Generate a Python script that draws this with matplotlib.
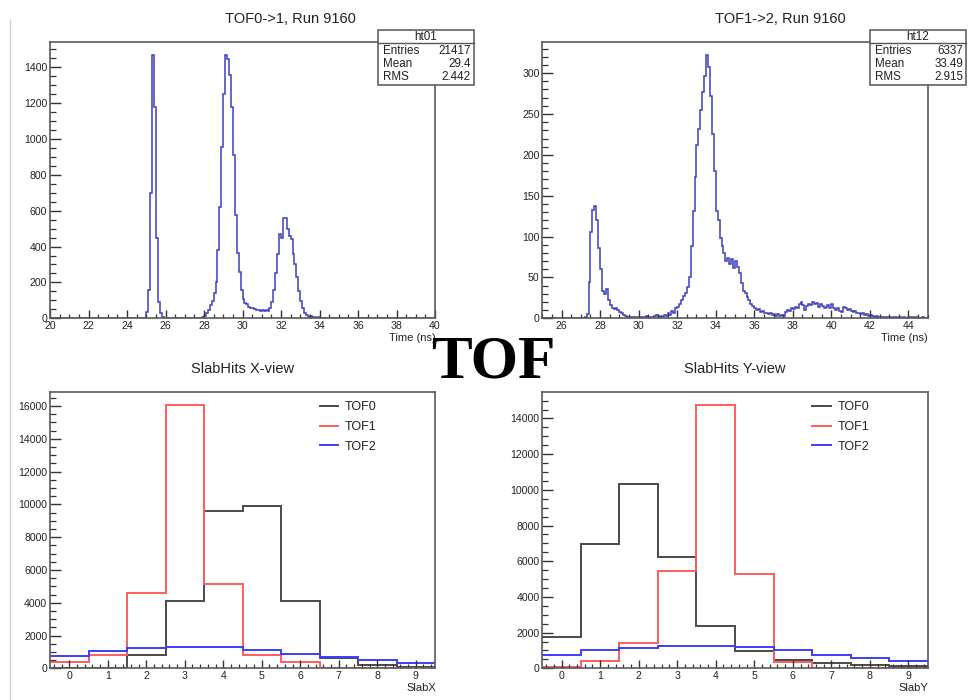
import numpy as np
import matplotlib
matplotlib.use("Agg")
import matplotlib.pyplot as plt
from matplotlib.ticker import MultipleLocator
from matplotlib.patches import Rectangle

plt.rcParams['font.family'] = ['Liberation Sans', 'DejaVu Sans']

# ---------------- data ----------------
# TOF0->1 time-of-flight histogram (0.1 ns bins)
t01_range = (20.0, 40.0)
t01_bin_width = 0.1
t01_first_bin = 24.8
t01_counts = [
    0, 3, 37, 158, 696, 1467, 1179, 450, 93, 28,          # 24.8 - 25.7
    5, 2, 1, 0, 1, 0, 0, 1, 0, 0,                         # 25.8 - 26.7
    0, 1, 0, 0, 1, 0, 1, 1, 2, 2,                         # 26.8 - 27.7
    3, 5, 12, 28, 46, 74, 95, 140, 205, 380,              # 27.8 - 28.7
    622, 956, 1250, 1467, 1445, 1355, 1180, 910, 578, 362,  # 28.8 - 29.7
    260, 158, 110, 84, 80, 62, 60, 55, 50, 48,            # 29.8 - 30.7
    45, 42, 45, 40, 45, 42, 55, 90, 160, 250,             # 30.8 - 31.7
    360, 470, 445, 560, 560, 500, 460, 440, 360, 300,     # 31.8 - 32.7
    230, 150, 95, 55, 30, 18, 10, 12, 8, 6,               # 32.8 - 33.7
    4, 5, 3, 2, 3, 1, 2, 1, 0, 1,                         # 33.8 - 34.7
    0, 0, 1, 0, 0, 0, 1, 0, 0, 0,                         # 34.8 - 35.7
]
t01_stats = ["ht01", "21417", "29.4", "2.442"]

# TOF1->2 time-of-flight histogram (0.1 ns bins)
t12_range = (25.0, 45.0)
t12_bin_width = 0.1
t12_first_bin = 27.2
t12_counts = [
    1, 5, 45, 105, 132, 137, 120, 86, 60, 33,             # 27.2 - 28.1
    30, 36, 22, 16, 13, 11, 12, 10, 8, 6,                 # 28.2 - 29.1
    4, 3, 2, 2, 1, 2, 1, 2, 1, 2,                         # 29.2 - 30.1
    1, 2, 3, 1, 2, 1, 3, 4, 2, 3,                         # 30.2 - 31.1
    2, 4, 3, 6, 4, 9, 7, 12, 14, 18,                      # 31.2 - 32.1
    22, 27, 31, 38, 51, 88, 131, 173, 212, 232,           # 32.2 - 33.1
    255, 277, 296, 322, 308, 272, 226, 180, 131, 120,     # 33.2 - 34.1
    98, 88, 80, 70, 74, 66, 72, 62, 70, 63,               # 34.2 - 35.1
    55, 43, 33, 31, 26, 22, 18, 15, 12, 10,               # 35.2 - 36.1
    11, 8, 9, 6, 7, 5, 6, 4, 5, 3,                        # 36.2 - 37.1
    5, 3, 4, 3, 8, 10, 9, 12, 11, 14,                     # 37.2 - 38.1
    13, 17, 20, 16, 10, 15, 18, 16, 20, 17,               # 38.2 - 39.1
    19, 14, 18, 15, 12, 14, 16, 13, 17, 12,               # 39.2 - 40.1
    10, 12, 9, 8, 14, 12, 10, 11, 9, 8,                   # 40.2 - 41.1
    9, 6, 7, 5, 6, 4, 5, 3, 4, 3,                         # 41.2 - 42.1
    2, 3, 1, 2, 1, 2, 1, 1, 2, 0,                         # 42.2 - 43.1
    1, 1, 0, 1, 0, 1, 0, 0, 1, 2,                         # 43.2 - 44.1
    1, 0, 1, 0, 0, 1, 0, 0,                               # 44.2 - 44.9
]
t12_stats = ["ht12", "6337", "33.49", "2.915"]

# Slab hit histograms (slab index 0..9)
slabs = [0, 1, 2, 3, 4, 5, 6, 7, 8, 9]
slabx_tof0 = [0, 0, 800, 4120, 9580, 9890, 4120, 610, 200, 100]
slabx_tof1 = [365, 812, 4620, 16040, 5130, 812, 406, 0, 0, 0]
slabx_tof2 = [770, 1055, 1260, 1320, 1300, 1120, 873, 670, 508, 345]
slaby_tof0 = [1734, 6990, 10350, 6210, 2350, 950, 466, 317, 186, 130]
slaby_tof1 = [93, 430, 1400, 5460, 14730, 5260, 336, 0, 0, 0]
slaby_tof2 = [746, 1044, 1137, 1268, 1230, 1193, 1025, 746, 597, 410]
series_labels = ["TOF0", "TOF1", "TOF2"]
series_colors = ["#4a4a4a", "#ff5c5c", "#3c3cff"]

# ---------------- figure ----------------
W, H = 976, 700
fig = plt.figure(figsize=(W / 100, H / 100), dpi=100)
fig.patch.set_facecolor("white")

def px_axes(left, top, right, bottom):
    return fig.add_axes([left / W, 1 - bottom / H, (right - left) / W, (bottom - top) / H])

TICK_COL = "#333333"
FRAME_COL = "#5a5a5a"

def style(ax, xmaj, xmin, ymaj, ymin):
    for s in ax.spines.values():
        s.set_color(FRAME_COL)
        s.set_linewidth(1.2)
    ax.xaxis.set_major_locator(MultipleLocator(xmaj))
    ax.xaxis.set_minor_locator(MultipleLocator(xmin))
    ax.yaxis.set_major_locator(MultipleLocator(ymaj))
    ax.yaxis.set_minor_locator(MultipleLocator(ymin))
    ax.tick_params(axis="both", which="both", direction="in", colors=TICK_COL,
                   labelsize=7.6, pad=2, top=False, right=False)
    ax.tick_params(axis="y", which="major", length=8.2, width=1)
    ax.tick_params(axis="y", which="minor", length=4.2, width=0.9)
    ax.tick_params(axis="x", which="major", length=5.5, width=1)
    ax.tick_params(axis="x", which="minor", length=2.8, width=0.9)
    for lab in ax.get_xticklabels() + ax.get_yticklabels():
        lab.set_color("#222222")

def full_hist(rng, width, first, counts):
    n = int(round((rng[1] - rng[0]) / width))
    vals = np.zeros(n)
    i0 = int(round((first - rng[0]) / width))
    vals[i0:i0 + len(counts)] = counts
    edges = rng[0] + width * np.arange(n + 1)
    return vals, edges

HIST_BLUE = "#3f3fbf"

# top-left
ax1 = px_axes(50, 42, 435, 318.3)
v, e = full_hist(t01_range, t01_bin_width, t01_first_bin, t01_counts)
ax1.stairs(v, e, baseline=None, color=HIST_BLUE, linewidth=1.1)
ax1.set_xlim(*t01_range)
ax1.set_ylim(0, 1.05 * max(t01_counts))
style(ax1, 2, 0.5, 200, 50)

# top-right
ax2 = px_axes(542.3, 42, 927.7, 318.3)
v, e = full_hist(t12_range, t12_bin_width, t12_first_bin, t12_counts)
ax2.stairs(v, e, baseline=None, color=HIST_BLUE, linewidth=1.1)
ax2.set_xlim(*t12_range)
ax2.set_ylim(0, 1.05 * max(t12_counts))
style(ax2, 2, 0.5, 50, 10)

# bottom panels
slab_edges = np.arange(len(slabs) + 1) - 0.5

def slab_panel(ax, series):
    for vals, lab, col in zip(series, series_labels, series_colors):
        ax.stairs(vals, slab_edges, baseline=None, color=col, linewidth=1.4, label=lab)
    ax.set_xlim(slab_edges[0], slab_edges[-1])
    ax.set_ylim(0, 1.05 * max(max(s) for s in series))
    style(ax, 1, 0.2, 2000, 500)
    leg = ax.legend(loc="upper left", bbox_to_anchor=(0.70, 0.968), frameon=False,
                    fontsize=9, handlelength=1.5, handletextpad=0.55,
                    labelspacing=0.62, borderpad=0, borderaxespad=0)
    for t in leg.get_texts():
        t.set_color("#222222")

ax3 = px_axes(50, 392.3, 435, 668.3)
slab_panel(ax3, [slabx_tof0, slabx_tof1, slabx_tof2])
ax4 = px_axes(542.3, 392.3, 927.7, 668.3)
slab_panel(ax4, [slaby_tof0, slaby_tof1, slaby_tof2])

# ---------------- overlay (titles, stats boxes, labels) ----------------
ov = fig.add_axes([0, 0, 1, 1], zorder=10)
ov.set_xlim(0, W)
ov.set_ylim(H, 0)
ov.axis("off")

TXT = "#222222"
ov.text(290, 19, "TOF0->1, Run 9160", ha="center", va="center", fontsize=10.5, color=TXT)
ov.text(780, 19, "TOF1->2, Run 9160", ha="center", va="center", fontsize=10.5, color=TXT)
ov.text(243, 369, "SlabHits X-view", ha="center", va="center", fontsize=10.5, color=TXT)
ov.text(734.5, 369, "SlabHits Y-view", ha="center", va="center", fontsize=10.5, color=TXT)

ov.text(436, 338, "Time (ns)", ha="right", va="center", fontsize=8, color=TXT)
ov.text(928, 338, "Time (ns)", ha="right", va="center", fontsize=8, color=TXT)
ov.text(436, 688, "SlabX", ha="right", va="center", fontsize=8, color=TXT)
ov.text(928, 688, "SlabY", ha="right", va="center", fontsize=8, color=TXT)

def stats_box(x0, x1, stats):
    ov.add_patch(Rectangle((x0, 30), x1 - x0, 55, facecolor="white",
                           edgecolor="#555555", linewidth=1.1))
    ov.plot([x0, x1], [43.3, 43.3], color="#555555", linewidth=1.0)
    ov.text((x0 + x1) / 2, 36.5, stats[0], ha="center", va="center", fontsize=8.4, color=TXT)
    for name, val, y in zip(["Entries", "Mean", "RMS"], stats[1:], [51.5, 64.0, 77.0]):
        ov.text(x0 + 5, y, name, ha="left", va="center", fontsize=8.4, color=TXT)
        ov.text(x1 - 3, y, val, ha="right", va="center", fontsize=8.4, color=TXT)

stats_box(378.3, 473.5, t01_stats)
stats_box(869.5, 966.0, t12_stats)

# big slide title
ov.text(493.5, 377, "TOF", ha="center", va="baseline", fontsize=44,
        fontweight="bold", family=["Liberation Serif", "DejaVu Serif"], color="black")

# slide edge line on the left
ov.plot([10, 10], [20, 700], color="#d0d0d0", linewidth=1.0)

fig.savefig("out.png", dpi=100, facecolor="white")
